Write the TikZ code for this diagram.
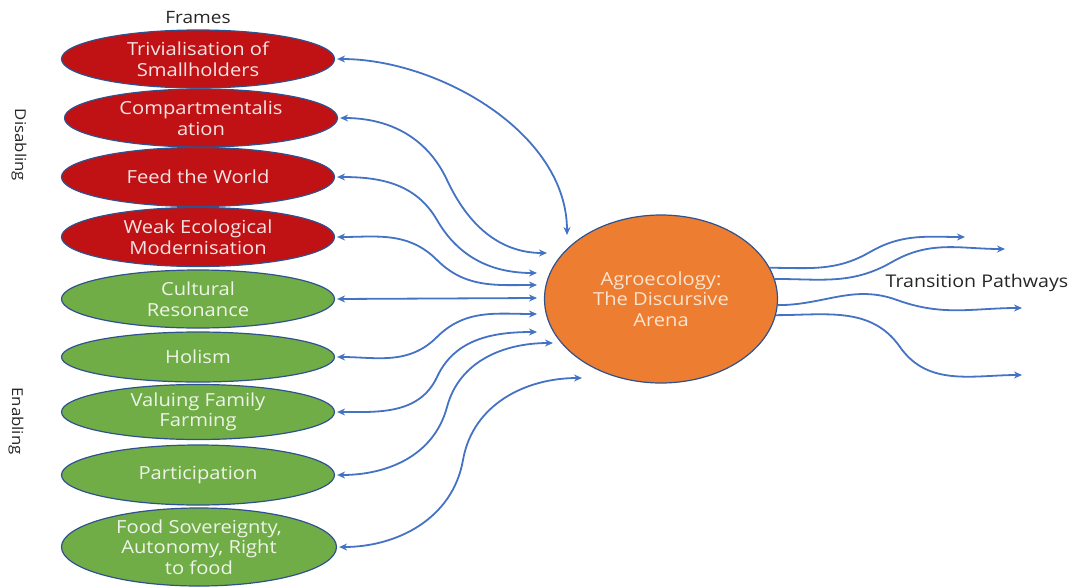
\documentclass[tikz,border=0pt]{standalone}
\usepackage{fontspec}
\setmainfont[FakeStretch=1.12]{Open Sans}
\usetikzlibrary{shapes.geometric,arrows.meta}
\definecolor{redfill}{RGB}{192,18,20}
\definecolor{greenfill}{RGB}{112,173,71}
\definecolor{orangefill}{RGB}{237,125,49}
\definecolor{edge}{RGB}{47,82,143}
\definecolor{arrowblue}{RGB}{68,114,196}
\definecolor{redtext}{RGB}{244,228,228}
\definecolor{greentext}{RGB}{238,244,232}
\definecolor{orangetext}{RGB}{250,228,208}
\definecolor{darktext}{RGB}{38,38,38}
\tikzset{
  frameell/.style={ellipse, draw=edge, line width=1.2pt, minimum width=273pt, inner sep=0pt},
  redell/.style={frameell, fill=redfill},
  greenell/.style={frameell, fill=greenfill},
  ftext/.style={align=center, font=\fontsize{18}{20.5}\selectfont, inner sep=0pt},
  rtext/.style={ftext, text=redtext},
  gtext/.style={ftext, text=greentext},
  sidelabel/.style={font=\fontsize{15}{18}\selectfont, text=darktext, rotate=-90},
  conn/.style={draw=arrowblue, line width=1.8pt, {Stealth[length=8pt,width=7pt]}-{Stealth[length=8pt,width=7pt]}, shorten <=2pt},
  outconn/.style={draw=arrowblue, line width=1.8pt, -{Stealth[length=8pt,width=7pt]}}
}
\begin{document}
\begin{tikzpicture}[x=1pt,y=1pt]
\useasboundingbox (0,0) rectangle (1081,-587);

% titles
\node[font=\fontsize{17}{20}\selectfont, text=darktext] (frames) at (198,-18) {Frames};
\node[sidelabel] (dis) at (19,-145) {Disabling};
\node[sidelabel] (ena) at (16,-421) {Enabling};
\node[font=\fontsize{17.5}{20}\selectfont, text=darktext] (tp) at (977,-283) {Transition Pathways};

% frames
\node[redell, minimum height=58pt] (t1) at (198,-59) {};
\node[rtext] (t1t) at (t1) {Trivialisation of\\Smallholders};
\node[redell, minimum height=58pt] (t2) at (201,-118) {};
\node[rtext] (t2t) at (t2) {Compartmentalis\\ation};
\node[redell, minimum height=59pt] (t3) at (198,-177) {};
\node[rtext] (t3t) at (t3) {Feed the World};
\node[redell, minimum height=59pt] (t4) at (198,-237) {};
\node[rtext] (t4t) at (t4) {Weak Ecological\\Modernisation};
\node[greenell, minimum height=58pt] (t5) at (198,-299) {};
\node[gtext] (t5t) at (t5) {Cultural\\Resonance};
\node[greenell, minimum height=50pt] (t6) at (198,-357) {};
\node[gtext] (t6t) at (t6) {Holism};
\node[greenell, minimum height=55pt] (t7) at (198,-412) {};
\node[gtext] (t7t) at (t7) {Valuing Family\\Farming};
\node[greenell, minimum height=60pt] (t8) at (198,-475) {};
\node[gtext] (t8t) at (t8) {Participation};
\node[greenell, minimum height=78pt, minimum width=275pt] (t9) at (199,-547) {};
\node[gtext] (t9t) at (t9) {Food Sovereignty,\\Autonomy, Right\\to food};

% arena
\node[ellipse, draw=edge, line width=1.2pt, fill=orangefill, minimum width=233pt, minimum height=168pt, inner sep=0pt] (arena) at (661,-299) {};
\node[ftext, text=orangetext] (arenat) at (arena) {Agroecology:\\The Discursive\\Arena};

% inbound end points
\coordinate (e1) at (567,-235);
\coordinate (e2) at (547,-253);
\coordinate (e3) at (537,-273);
\coordinate (e4) at (537,-285);
\coordinate (e5) at (537,-298);
\coordinate (e6) at (537,-314);
\coordinate (e7) at (537,-332);
\coordinate (e8) at (553,-343);
\coordinate (e9) at (582,-378);

\draw[conn] (t1.east) to[out=0,in=90,looseness=0.9] (e1);
\draw[conn] (t2.east) to[out=0,in=115] (447,-180) to[out=-65,in=180] (e2);
\draw[conn] (t3.east) to[out=0,in=120] (437,-220) to[out=-60,in=180] (e3);
\draw[conn] (t4.east) to[out=0,in=135] (437,-260) to[out=-45,in=180] (e4);
\draw[conn] (t5.east) -- (e5);
\draw[conn] (t6.east) to[out=0,in=-135] (437,-337) to[out=45,in=180] (e6);
\draw[conn] (t7.east) to[out=0,in=-115] (437,-377) to[out=65,in=180] (e7);
\draw[conn] (t8.east) to[out=0,in=-105] (447,-407) to[out=75,in=180] (e8);
\draw[conn] (t9.east) to[out=0,in=-100] (463,-460) to[out=80,in=180] (e9);

% outbound
\coordinate (p1) at (965,-237);
\coordinate (p2) at (1005,-249);
\coordinate (p3) at (1022,-308);
\coordinate (p4) at (1022,-375);
\draw[outconn] (arena.16) to[out=0,in=-150] (870,-252) to[out=30,in=180] (p1);
\draw[outconn] (arena.10) to[out=0,in=-150] (892,-262) to[out=30,in=180] (p2);
\draw[outconn] (arena.-3) to[out=0,in=160] (897,-300) to[out=-20,in=180] (p3);
\draw[outconn] (arena.-8) to[out=0,in=125] (900,-347) to[out=-55,in=180] (p4);
\end{tikzpicture}
\end{document}
